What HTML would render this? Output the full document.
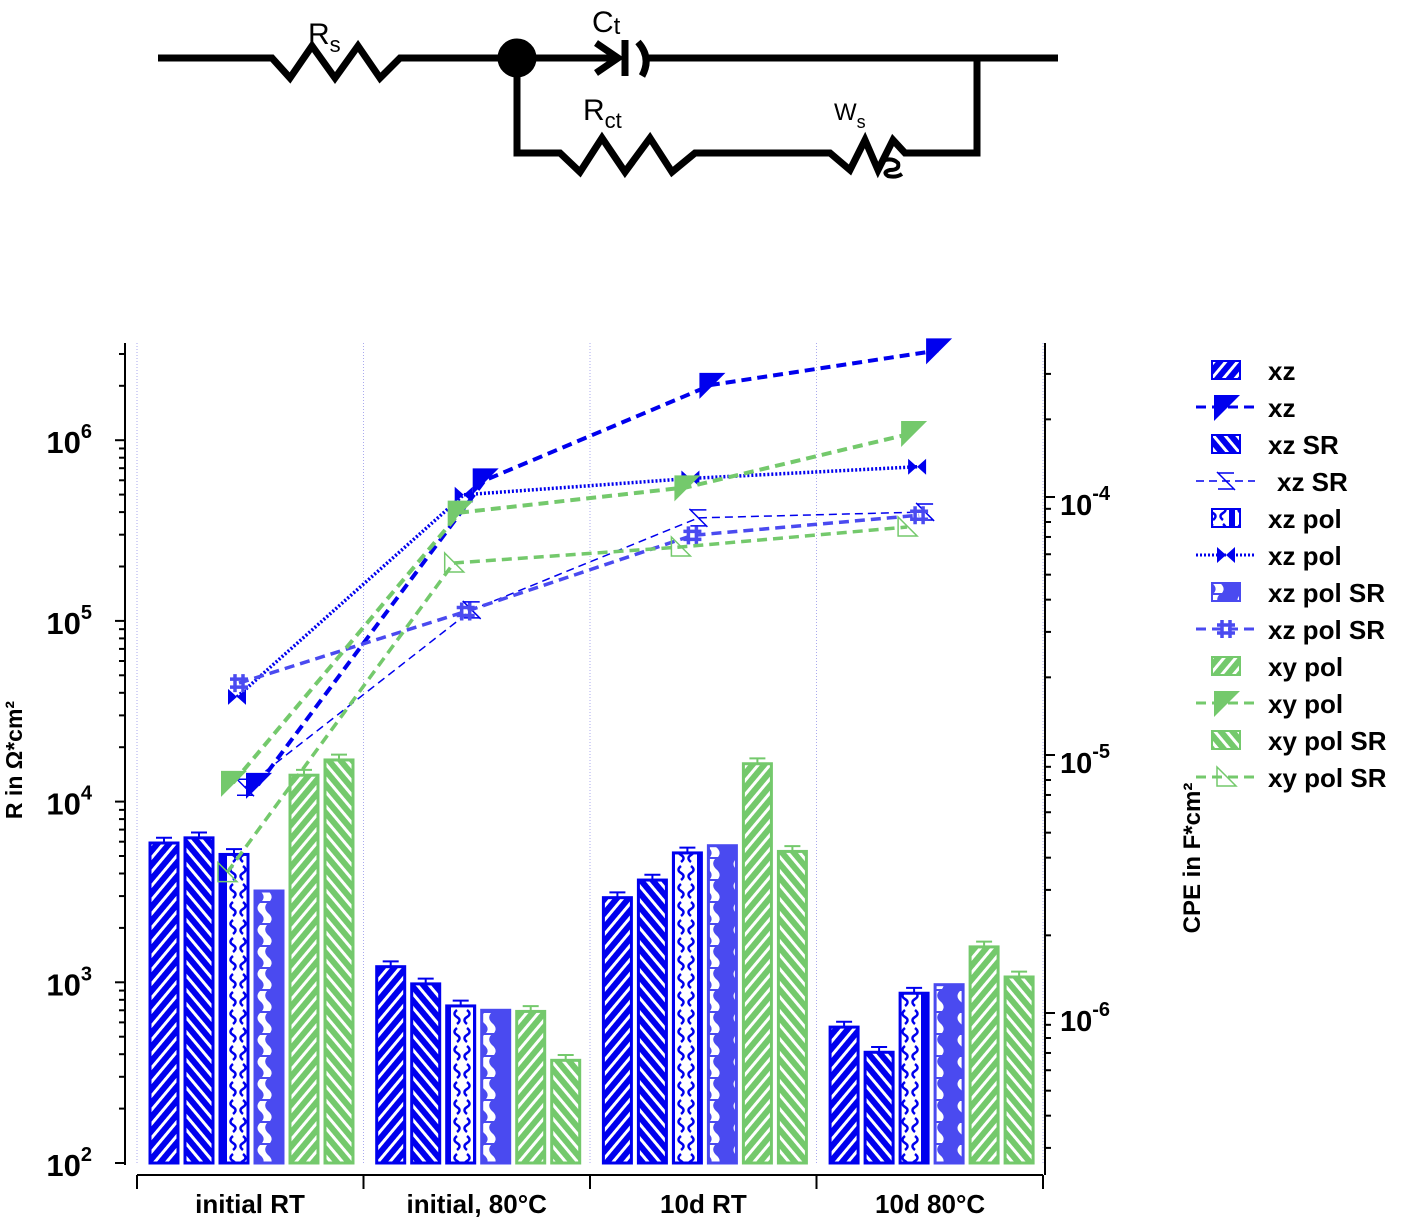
<!DOCTYPE html>
<html><head><meta charset="utf-8"><style>
body{margin:0;background:#fff;width:1405px;height:1223px;overflow:hidden}
svg{font-family:"Liberation Sans",Arial,sans-serif}
</style></head><body>
<svg id="c" width="1405" height="1223" viewBox="0 0 1405 1223" xmlns="http://www.w3.org/2000/svg">
<defs>
<pattern id="pB1" width="9" height="9" patternUnits="userSpaceOnUse" patternTransform="rotate(40)"><rect width="9" height="9" fill="#0000ee"/><rect width="3" height="9" fill="#fff"/></pattern>
<pattern id="pB2" width="9" height="9" patternUnits="userSpaceOnUse" patternTransform="rotate(-40)"><rect width="9" height="9" fill="#0000ee"/><rect width="3" height="9" fill="#fff"/></pattern>
<pattern id="pB3" width="28" height="18" patternUnits="userSpaceOnUse"><rect width="28" height="18" fill="#fff"/><path d="M0 0 V18 M28 0 V18" stroke="#0000ee" stroke-width="6"/><path d="M9 2 Q4 6 9 9 Q14 12 9 16 M19 2 Q24 6 19 9 Q14 12 19 16" stroke="#0000ee" stroke-width="2.5" fill="none"/></pattern>
<pattern id="pB4" width="28" height="22" patternUnits="userSpaceOnUse"><rect width="28" height="22" fill="#4a4af0"/><path d="M8 1 Q3 6 8 11 Q14 16 10 21 H18 Q22 16 16 11 Q11 6 15 1 Z" fill="#fff"/></pattern>
<pattern id="pG1" width="9" height="9" patternUnits="userSpaceOnUse" patternTransform="rotate(40)"><rect width="9" height="9" fill="#74c96c"/><rect width="3" height="9" fill="#fff"/></pattern>
<pattern id="pG2" width="9" height="9" patternUnits="userSpaceOnUse" patternTransform="rotate(-40)"><rect width="9" height="9" fill="#74c96c"/><rect width="3" height="9" fill="#fff"/></pattern>
</defs>
<g id="circuit" fill="none" stroke="#000" stroke-width="7">
<path d="M158 58 H272 L290 78 L312 46 L335 78 L358 46 L380 78 L400 58 H505"/>
<path d="M528 58 H615 M596 43 L618 58 L596 73" />
<path d="M625 40 V76"/><path d="M638 42 Q652 58 642 76 M648 58 H1058"/>
<path d="M517 58 V153 H560 L580 172 L602 138 L625 172 L650 138 L672 172 L695 153 H830 L850 170 L865 140 L878 170 L893 140 L905 153 H977 V58"/>
<path d="M885 160 Q893 158 898 163 Q900 170 890 170 Q882 172 888 176 Q896 178 902 174" stroke-width="4"/>
<circle cx="517" cy="58" r="16" fill="#000"/>
</g>
<g font-size="30">
<text x="308" y="44">R<tspan font-size="22" dy="8">s</tspan></text>
<text x="592" y="32">C<tspan font-size="24" dy="2">t</tspan></text>
<text x="583" y="120">R<tspan font-size="22" dy="8">ct</tspan></text>
<text x="834" y="120" font-size="24">W<tspan font-size="18" dy="8">s</tspan></text>
</g>
<g id="plot"></g>
</svg>
<script>
const categories=["initial RT","initial, 80°C","10d RT","10d 80°C"];
const barSeries=["xz","xz SR","xz pol","xz pol SR","xy pol","xy pol SR"];
const bar_xz=[5900,1220,2940,565];
const bar_xzSR=[6300,980,3680,410];
const bar_xzpol=[5100,740,5200,870];
const bar_xzpolSR=[3200,700,5700,970];
const bar_xypol=[14000,690,16200,1570];
const bar_xypolSR=[17000,370,5300,1070];
const cpe_xz=[7.66e-6,1.16e-4,2.72e-4,3.7e-4];
const cpe_xzSR=[7.5e-6,3.65e-5,8.3e-5,8.75e-5];
const cpe_xzpol=[1.68e-5,1.02e-4,1.18e-4,1.31e-4];
const cpe_xzpolSR=[1.9e-5,3.6e-5,7.1e-5,8.5e-5];
const cpe_xypol=[7.8e-6,8.7e-5,1.09e-4,1.77e-4];
const cpe_xypolSR=[3.5e-6,5.55e-5,6.4e-5,7.65e-5];
const leftTicks=[2,3,4,5,6];
const rightTicks=[-6,-5,-4];

const NS="http://www.w3.org/2000/svg";
const plot=document.getElementById('plot');
function el(t,a,p){const e=document.createElementNS(NS,t);for(const k in a)e.setAttribute(k,a[k]);(p||plot).appendChild(e);return e;}
const yL=v=>1163-(Math.log10(v)-2)*180.7;
const yR=v=>497-(Math.log10(v)+4)*258;
const gx=i=>250+i*226.7;
const xAxisY=1175;
for(let i=0;i<5;i++){const x=137+i*226.5;const g=el('line',{x1:x,y1:343,x2:x,y2:1165,stroke:'#aaaaee','stroke-width':1,'stroke-dasharray':'1,2'});
}
const la=el('line',{x1:125,y1:343,x2:125,y2:1165,stroke:'#000','stroke-width':2});

for(let d=2;d<=6;d++){for(let m=1;m<10;m++){const v=m*Math.pow(10,d);const y=yL(v);if(y<343)break;
el('line',{x1:125-(m==1?10:6),y1:y,x2:125,y2:y,stroke:'#000','stroke-width':2});}}
leftTicks.forEach(d=>{const t=el('text',{x:92,y:yL(Math.pow(10,d))+13,'font-size':31,'font-weight':'bold','text-anchor':'end'});
t.innerHTML='10<tspan font-size="20" dy="-15">'+d+'</tspan>';});
const lt=el('text',{x:22,y:760,'font-size':23,'font-weight':'bold','text-anchor':'middle',transform:'rotate(-90 22 760)'});
lt.textContent='R in Ω*cm²';
const ra=el('line',{x1:1045,y1:343,x2:1045,y2:1175,stroke:'#000','stroke-width':2});

for(let d=-7;d<=-4;d++){for(let m=1;m<10;m++){const v=m*Math.pow(10,d);const y=yR(v);if(y>1175||y<343)continue;
el('line',{x1:1045,y1:y,x2:1045+(m==1?10:6),y2:y,stroke:'#000','stroke-width':2});}}
rightTicks.forEach(d=>{const t=el('text',{x:1060,y:yR(Math.pow(10,d))+18,'font-size':29,'font-weight':'bold'});
t.innerHTML='10<tspan font-size="20" dy="-15">'+d+'</tspan>';});
const rt=el('text',{x:1200,y:858,'font-size':24,'font-weight':'bold','text-anchor':'middle',transform:'rotate(-90 1200 858)'});
rt.textContent='CPE in F*cm²';
const xa=el('line',{x1:137,y1:xAxisY,x2:1043,y2:xAxisY,stroke:'#000','stroke-width':2});

for(let i=0;i<5;i++){el('line',{x1:137+i*226.5,y1:xAxisY,x2:137+i*226.5,y2:xAxisY+14,stroke:'#000','stroke-width':2});}
categories.forEach((c,i)=>{const t=el('text',{x:gx(i),y:1213,'font-size':26,'font-weight':'bold','text-anchor':'middle'});t.textContent=c;
});
const barData=[bar_xz,bar_xzSR,bar_xzpol,bar_xzpolSR,bar_xypol,bar_xypolSR];
const fills=['pB1','pB2','pB3','pB4','pG1','pG2'];
const strokes=['#0000ee','#0000ee','#0000ee','#4a4af0','#74c96c','#74c96c'];
const errBars=[true,true,true,false,true,true];
barData.forEach((arr,s)=>arr.forEach((v,i)=>{const x=gx(i)-100+s*35;const y=yL(v);
const r=el('rect',{x:x,y:y,width:28,height:1163-y,fill:'url(#'+fills[s]+')',stroke:strokes[s],'stroke-width':3});

if(errBars[s]){const ye=yL(v*1.07);el('path',{d:`M${x+14} ${y} V${ye} M${x+6} ${ye} H${x+22}`,stroke:strokes[s],'stroke-width':2,fill:'none'});}
}));
const lines=[
{n:'xz',d:cpe_xz,c:'#0000ee',w:4,da:'10,6',off:8,m:'tri'},
{n:'xz-SR',d:cpe_xzSR,c:'#0000ee',w:1.5,da:'8,5',off:-5,m:'slash'},
{n:'xz-pol',d:cpe_xzpol,c:'#0000ee',w:3.5,da:'2,2',off:-13,m:'bow'},
{n:'xz-pol-SR',d:cpe_xzpolSR,c:'#4a4af0',w:3.5,da:'10,6',off:-11,m:'hash'},
{n:'xy-pol',d:cpe_xypol,c:'#74c96c',w:4,da:'10,6',off:-17,m:'tri'},
{n:'xy-pol-SR',d:cpe_xypolSR,c:'#74c96c',w:3.5,da:'10,6',off:-23,m:'open'}];
function marker(type,x,y,c){
 if(type=='tri')return el('path',{d:`M${x-12} ${y-12} H${x+14} L${x-12} ${y+14} Z`,fill:c});
 if(type=='open')return el('path',{d:`M${x-9} ${y-10} L${x+10} ${y+9} H${x-9} Z`,fill:'none',stroke:c,'stroke-width':1.5});
 if(type=='slash')return el('path',{d:`M${x-9} ${y-9} L${x+9} ${y+9} M${x-8} ${y-8} H${x+8} M${x-8} ${y+8} H${x+8}`,stroke:c,'stroke-width':1.5,fill:'none'});
 if(type=='bow')return el('path',{d:`M${x-9} ${y-8} L${x+9} ${y+8} V${y-8} L${x-9} ${y+8} Z`,fill:c});
 if(type=='hash')return el('path',{d:`M${x-4} ${y-9} V${y+9} M${x+4} ${y-9} V${y+9} M${x-9} ${y-4} H${x+9} M${x-9} ${y+4} H${x+9}`,stroke:c,'stroke-width':3.5,fill:'none'});
}
lines.forEach(L=>{const pts=L.d.map((v,i)=>[gx(i)+L.off,yR(v)]);
const p=el('polyline',{points:pts.map(p=>p.join(',')).join(' '),fill:'none',stroke:L.c,'stroke-width':L.w,'stroke-dasharray':L.da});

pts.forEach((q,i)=>{const m=marker(L.m,q[0],q[1],L.c);});});
const leg=[['bar','pB1','#0000ee','xz'],['line',lines[0]],['bar','pB2','#0000ee','xz SR'],['line',lines[1]],['bar','pB3','#0000ee','xz pol'],['line',lines[2]],
['bar','pB4','#4a4af0','xz pol SR'],['line',lines[3]],['bar','pG1','#74c96c','xy pol'],['line',lines[4]],['bar','pG2','#74c96c','xy pol SR'],['line',lines[5]]];
leg.forEach((e,i)=>{const y=370+i*37;const g=el('g',{});
 let label;
 if(e[0]=='bar'){el('rect',{x:1212,y:y-9,width:28,height:18,fill:'url(#'+e[1]+')',stroke:e[2],'stroke-width':2},g);label=e[3];}
 else{const L=e[1];el('line',{x1:1196,y1:y,x2:1255,y2:y,stroke:L.c,'stroke-width':Math.min(L.w,3),'stroke-dasharray':L.da},g);
  const m=marker(L.m,1226,y,L.c);g.appendChild(m);label=L.n.replace(/-/g,' ');}
 const t=el('text',{x:e[0]=='line'&&i==3?1277:1268,y:y+10,'font-size':26,'font-weight':'bold'},g);t.textContent=label;});
</script>
</body></html>
